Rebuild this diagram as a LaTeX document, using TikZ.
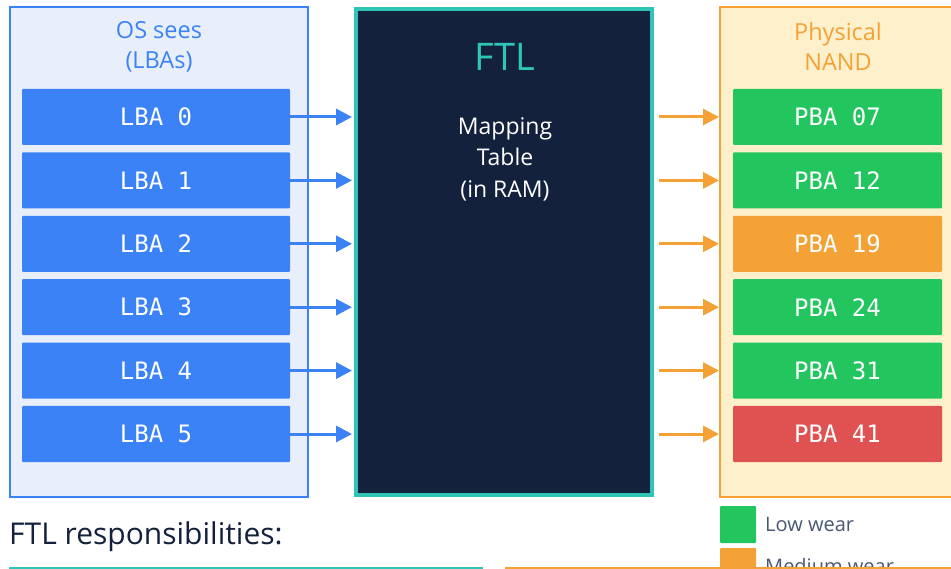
\documentclass[tikz,border=0pt]{standalone}
\usepackage{fontspec}
\setmainfont{Open Sans}
\newfontfamily\codefont{DejaVu Sans Mono}
\usetikzlibrary{arrows.meta}
\definecolor{cblue}{HTML}{3B82F6}
\definecolor{clight}{HTML}{E8EEFA}
\definecolor{cnavy}{HTML}{14213D}
\definecolor{cteal}{HTML}{2EC4B6}
\definecolor{corange}{HTML}{F4A236}
\definecolor{ccream}{HTML}{FEF0CB}
\definecolor{cgreen}{HTML}{22C55E}
\definecolor{cred}{HTML}{E05252}
\definecolor{cgray}{HTML}{4A5873}
\tikzset{
  panel/.style={draw, line width=2pt, minimum width=298pt, minimum height=490pt, inner sep=0pt},
  cell/.style={rounded corners=1pt, minimum width=268pt, minimum height=56pt, inner sep=0pt,
    text=white, font=\codefont\fontsize{24}{28}\selectfont},
  pcell/.style={cell, minimum width=209pt},
  title/.style={font=\fontsize{23.5}{30}\selectfont, align=center},
  barrow/.style={draw=cblue, line width=3pt, -{Triangle[length=16pt,width=16pt]}},
  oarrow/.style={draw=corange, line width=3pt, -{Triangle[length=16pt,width=16pt]}},
  legsq/.style={rounded corners=1pt, minimum width=36pt, minimum height=37pt, inner sep=0pt},
  legtxt/.style={anchor=west, text=cgray, font=\fontsize{20}{24}\selectfont, inner sep=0pt},
}
\begin{document}
\begin{tikzpicture}[x=1pt,y=-1pt]
\clip (0,0) rectangle (951,569);
\fill[white] (0,0) rectangle (951,569);
% left panel
\node[panel, draw=cblue, fill=clight] (os) at (159,252) {};
\node[title, text=cblue] (ost) at (159,47) {OS sees\\(LBAs)};
% FTL
\node[draw=cteal, fill=cnavy, line width=4pt, minimum width=296pt, minimum height=486pt, inner sep=0pt] (ftl) at (504,252) {};
\node[text=cteal, font=\fontsize{38}{42}\selectfont] (ftlt) at (505,57) {FTL};
\node[title, text=white, font=\fontsize{23}{31.5}\selectfont] (map) at (505,159) {Mapping\\Table\\(in RAM)};
% right panel
\node[panel, draw=corange, fill=ccream, minimum width=260pt] (nand) at (850,252) {};
\node[title, text=corange] (nt) at (838,47) {Physical\\NAND};
% cells
\foreach \i/\p/\c in {0/07/cgreen,1/12/cgreen,2/19/corange,3/24/cgreen,4/31/cgreen,5/41/cred}{
  \node[cell, fill=cblue] (l\i) at (156,117+63.4*\i) {LBA \i};
  \node[pcell, fill=\c] (p\i) at (837.5,117+63.4*\i) {PBA \p};
  \draw[barrow] (l\i.east) -- ([xshift=-2pt]l\i.east -| ftl.west);
  \draw[oarrow] ([xshift=5pt]p\i.west -| ftl.east) -- (p\i.west -| nand.west);
}
% bottom
\node[anchor=west, text=cnavy, font=\fontsize{30}{34}\selectfont, inner sep=0pt] (resp) at (9,537) {FTL responsibilities:};
\node[legsq, fill=cgreen] (lg1) at (738,524.5) {};
\node[legtxt] (lt1) at (765,524) {Low wear};
\node[legsq, fill=corange] (lg2) at (738,566.5) {};
\node[legtxt] (lt2) at (765,566) {Medium wear};
\draw[cteal, line width=3pt] (10,568.5) rectangle (481,620);
\draw[corange, line width=3pt, fill=white] (506,568.5) rectangle (980,620);
\end{tikzpicture}
\end{document}
